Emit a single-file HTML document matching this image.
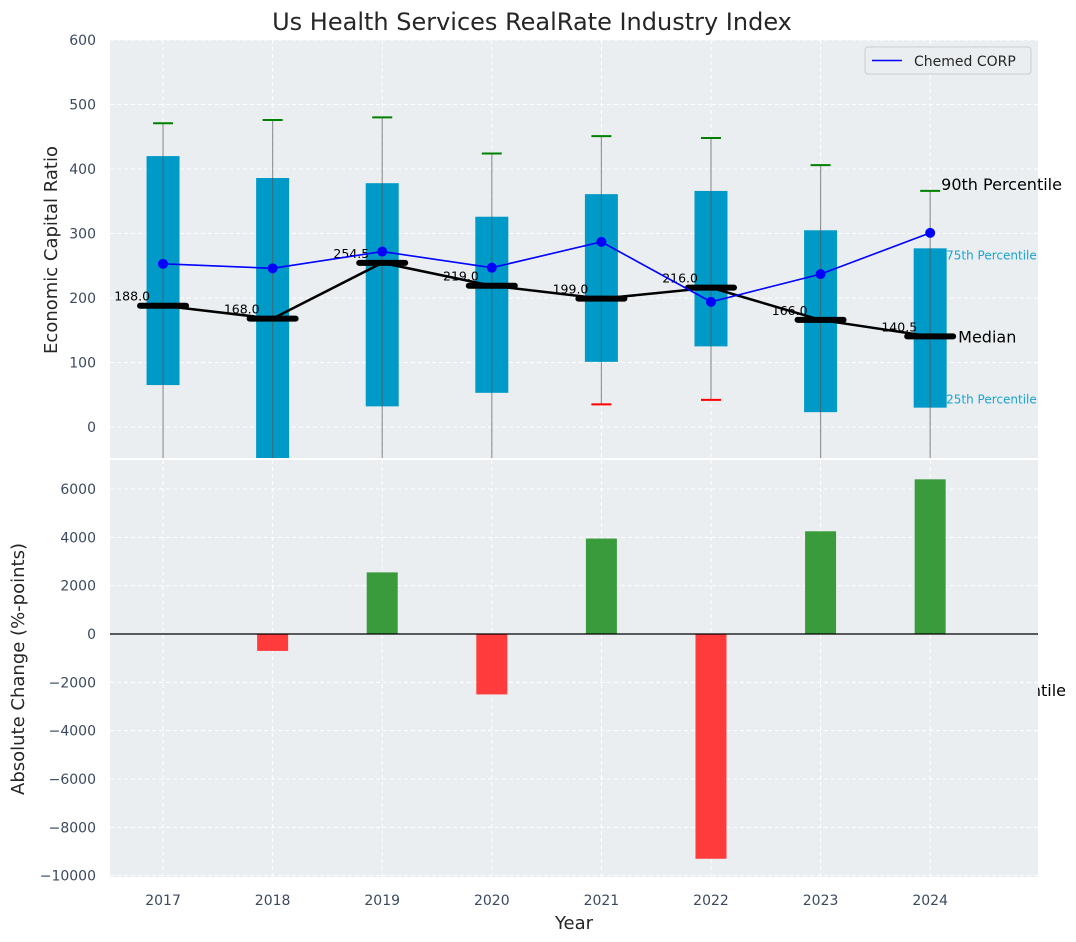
<!DOCTYPE html>
<html><head><meta charset="utf-8"><style>
body{margin:0;background:#fff;}
svg{display:block;font-family:"DejaVu Sans","Liberation Sans",sans-serif;}
</style></head><body>
<svg id="chart" width="1076" height="942" viewBox="0 0 1076 942">
<text x="532" y="30" text-anchor="middle" font-size="24" fill="#262626">Us Health Services RealRate Industry Index</text>
<g id="topg"></g>
<g id="botg"></g>
</svg>
<script>
const years=[2017,2018,2019,2020,2021,2022,2023,2024];
const p90=[471,476,480,424,451,448,406,366];
const p75=[420,386,378,326,361,366,305,277];
const medians=[188,168,254.5,219,199,216,166,140.5];
const p25=[65,-60,32,53,101,125,23,30];
const p10=[-100,-100,-100,-100,35,42,-100,-100];
const company=[253,246,272,247,287,194,237,301];
const changes=[0,-700,2550,-2500,3950,-9300,4250,6400];
const topTicks=[0,100,200,300,400,500,600];
const botTicks=[-10000,-8000,-6000,-4000,-2000,0,2000,4000,6000];

const NS="http://www.w3.org/2000/svg";
const L=110,R=1038;
const x=v=>L+(v-2016.516)/(2024.984-2016.516)*(R-L);
const yT=v=>427-v*0.645;
const yB=v=>634-v*0.024167;
function mk(tag,attrs,parent,text){const e=document.createElementNS(NS,tag);for(const k in attrs)e.setAttribute(k,attrs[k]);if(text!==undefined)e.textContent=text;parent.appendChild(e);return e;}
const topG=document.getElementById('topg'),botG=document.getElementById('botg');

let t=mk('text',{x:1066,y:696,'text-anchor':'end','font-size':16,fill:'#000'},topG,'10th Percentile');



let bg=mk('rect',{x:L,y:40,width:R-L,height:418,fill:'#eaeef0'},topG);


const clipT=mk('clipPath',{id:'ct'},topG);mk('rect',{x:L,y:40,width:R-L,height:418},clipT);
const gT=mk('g',{'clip-path':'url(#ct)'},topG);
topTicks.forEach(v=>{
 let g=mk('line',{x1:L,x2:R,y1:yT(v),y2:yT(v),stroke:'#fff','stroke-dasharray':'4,3','stroke-width':1},gT);
 
 
 let tl=mk('text',{x:96,y:yT(v)+5,'text-anchor':'end','font-size':14,fill:'#3b4a5e'},topG,String(v));
 
 
});
years.forEach(yr=>{mk('line',{x1:x(yr),x2:x(yr),y1:40,y2:458,stroke:'#fff','stroke-dasharray':'4,3'},gT);});
years.forEach((yr,i)=>{
 const cx=x(yr);
 let b=mk('rect',{x:cx-16.5,y:yT(p75[i]),width:33,height:yT(p25[i])-yT(p75[i]),fill:'#009ac9'},gT);
 
 
 let w=mk('line',{x1:cx,x2:cx,y1:yT(p90[i]),y2:yT(p10[i]),stroke:'#555','stroke-opacity':0.6,'stroke-width':1.2},gT);
 
 
 let c=mk('line',{x1:cx-10,x2:cx+10,y1:yT(p90[i]),y2:yT(p90[i]),stroke:'green','stroke-width':2},gT);
 
 
 if(p10[i]>-48){let c2=mk('line',{x1:cx-10,x2:cx+10,y1:yT(p10[i]),y2:yT(p10[i]),stroke:'red','stroke-width':2},gT);
 
 }
});
let mp=mk('polyline',{points:years.map((yr,i)=>x(yr)+','+yT(medians[i])).join(' '),fill:'none',stroke:'#000','stroke-width':2.5},gT);


years.forEach((yr,i)=>{
 let m=mk('line',{x1:x(yr)-23,x2:x(yr)+23,y1:yT(medians[i]),y2:yT(medians[i]),stroke:'#000','stroke-width':6,'stroke-linecap':'round'},gT);
 
 
 let ml=mk('text',{x:x(yr)-13,y:yT(medians[i])-5,'text-anchor':'end','font-size':12.5,fill:'#000'},gT,medians[i].toFixed(1));
 
 
});
let cp=mk('polyline',{points:years.map((yr,i)=>x(yr)+','+yT(company[i])).join(' '),fill:'none',stroke:'#0000ff','stroke-width':1.6},gT);


years.forEach((yr,i)=>{let d=mk('circle',{cx:x(yr),cy:yT(company[i]),r:5,fill:'#0000ff'},gT);
 
 });
const last=years.length-1,lx=x(years[last]);
t=mk('text',{x:lx+11,y:yT(p90[last])-1,'font-size':16,fill:'#000'},topG,'90th Percentile');


t=mk('text',{x:lx+16,y:yT(p75[last])+11,'font-size':12,fill:'#1aa3d1'},topG,'75th Percentile');


t=mk('text',{x:lx+28,y:yT(medians[last])+6,'font-size':16,fill:'#000'},topG,'Median');


t=mk('text',{x:lx+16,y:yT(p25[last])-4,'font-size':12,fill:'#1aa3d1'},topG,'25th Percentile');


t=mk('text',{x:0,y:0,transform:'translate(57,250) rotate(-90)','text-anchor':'middle','font-size':18,fill:'#262626'},topG,'Economic Capital Ratio');


const lg=mk('g',{},topG);


mk('rect',{x:865,y:47,width:166,height:27,rx:3,fill:'#eaeef0',stroke:'#ccc'},lg);
mk('line',{x1:872,x2:902,y1:60.5,y2:60.5,stroke:'#0000ff','stroke-width':1.6},lg);
mk('text',{x:914,y:66,'font-size':14,fill:'#262626'},lg,'Chemed CORP');

bg=mk('rect',{x:L,y:460,width:R-L,height:417,fill:'#eaeef0'},botG);


botTicks.forEach(v=>{
 mk('line',{x1:L,x2:R,y1:yB(v),y2:yB(v),stroke:'#fff','stroke-dasharray':'4,3'},botG);
 let tl=mk('text',{x:96,y:yB(v)+5,'text-anchor':'end','font-size':14,fill:'#3b4a5e'},botG,v<0?'\u2212'+Math.abs(v):String(v));
 
 
});
years.forEach(yr=>{
 mk('line',{x1:x(yr),x2:x(yr),y1:460,y2:877,stroke:'#fff','stroke-dasharray':'4,3'},botG);
 let tl=mk('text',{x:x(yr),y:905,'text-anchor':'middle','font-size':14,fill:'#3b4a5e'},botG,String(yr));
 
 
});
years.forEach((yr,i)=>{
 const v=changes[i];if(v===0)return;
 let b=mk('rect',{x:x(yr)-15.5,y:Math.min(yB(v),yB(0)),width:31,height:Math.abs(yB(v)-yB(0)),fill:v>0?'#3a9b3d':'#ff3b3b'},botG);
 
 
});
let zl=mk('line',{x1:L,x2:R,y1:yB(0),y2:yB(0),stroke:'#000','stroke-width':1.2},botG);


t=mk('text',{x:0,y:0,transform:'translate(24,669) rotate(-90)','text-anchor':'middle','font-size':18,fill:'#262626'},botG,'Absolute Change (%-points)');


t=mk('text',{x:574,y:929,'text-anchor':'middle','font-size':18,fill:'#262626'},botG,'Year');


</script>
</body></html>
